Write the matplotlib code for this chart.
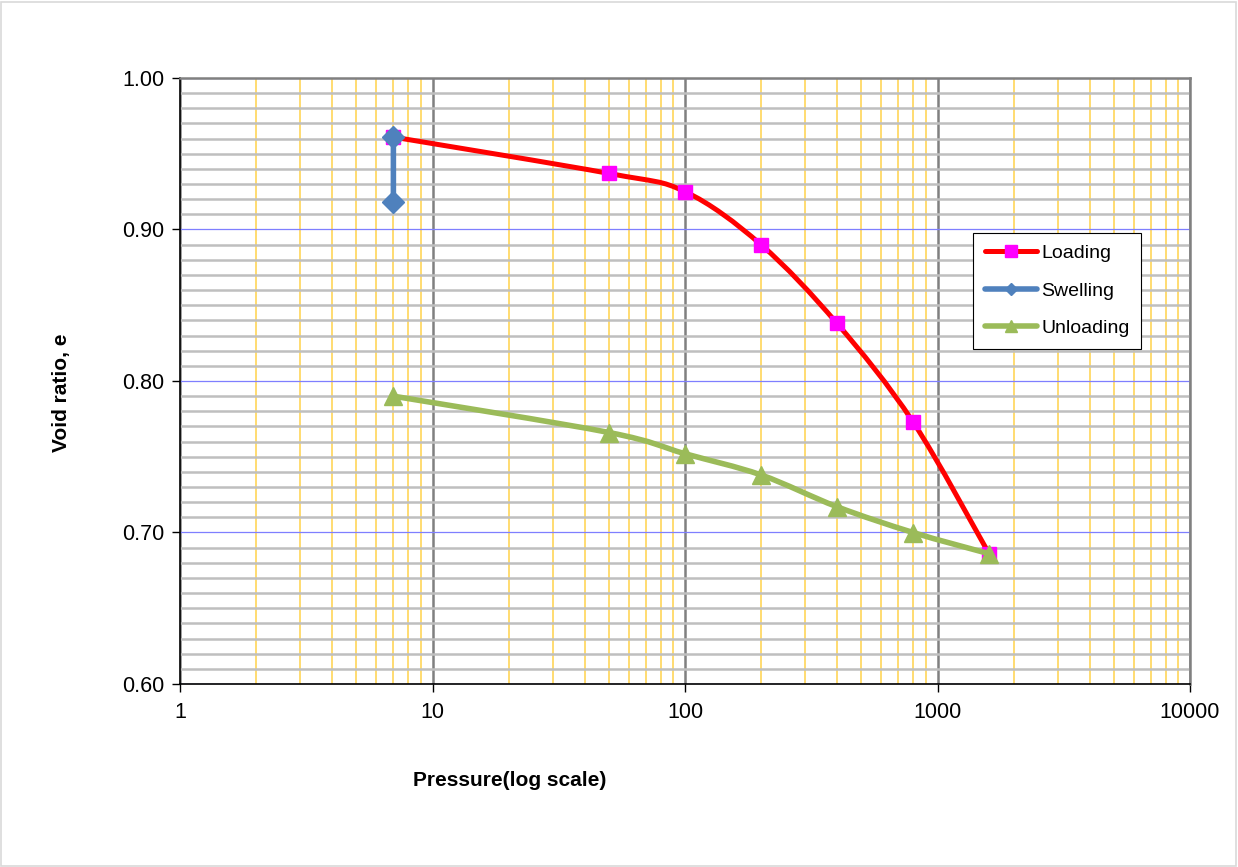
import matplotlib
matplotlib.use("Agg")
import matplotlib.pyplot as plt
import matplotlib.ticker as ticker
from matplotlib.path import Path
from matplotlib.patches import PathPatch, Rectangle
from matplotlib.lines import Line2D
import numpy as np

plt.rcParams['font.family'] = ['Liberation Sans', 'DejaVu Sans']

# data
loading_p = [7, 50, 100, 200, 400, 800, 1600]
loading_e = [0.961, 0.937, 0.925, 0.890, 0.838, 0.773, 0.686]

swelling_p = [7, 7]
swelling_e = [0.961, 0.918]

unloading_p = [7, 50, 100, 200, 400, 800, 1600]
unloading_e = [0.790, 0.766, 0.752, 0.738, 0.717, 0.700, 0.686]


def smooth_path(xs, ys):
    # Excel-like smoothed line: Catmull-Rom to cubic Bezier in (log x, y) space
    lx = np.log10(np.asarray(xs, dtype=float))
    ly = np.asarray(ys, dtype=float)
    # scale y so the spline works in roughly display proportions
    sy = 4.0 / 0.4 * (606 / 1010)
    pts = np.column_stack([lx, ly * sy])
    n = len(pts)
    verts = [pts[0]]
    codes = [Path.MOVETO]
    for i in range(n - 1):
        p0 = pts[max(i - 1, 0)]
        p1 = pts[i]
        p2 = pts[i + 1]
        p3 = pts[min(i + 2, n - 1)]
        c1 = p1 + (p2 - p0) / 6.0
        c2 = p2 - (p3 - p1) / 6.0
        verts += [c1, c2, p2]
        codes += [Path.CURVE4] * 3
    verts = np.array(verts)
    verts = np.column_stack([10 ** verts[:, 0], verts[:, 1] / sy])
    return Path(verts, codes)


fig = plt.figure(figsize=(12.38, 8.67), dpi=100)
ax = fig.add_axes([180 / 1238, 1 - 684 / 867, 1010 / 1238, 606 / 867])

ax.set_xscale('log')
ax.set_xlim(1, 10000)
ax.set_ylim(0.60, 1.00)

ax.set_axisbelow(True)
ax.yaxis.set_major_locator(ticker.MultipleLocator(0.1))
ax.yaxis.set_minor_locator(ticker.MultipleLocator(0.01))
ax.xaxis.set_major_locator(ticker.LogLocator(base=10, numticks=10))
ax.xaxis.set_minor_locator(ticker.LogLocator(base=10, subs=np.arange(2, 10), numticks=20))
ax.xaxis.set_major_formatter(ticker.FuncFormatter(lambda v, p: f'{v:g}'))
ax.xaxis.set_minor_formatter(ticker.NullFormatter())
ax.yaxis.set_major_formatter(ticker.FormatStrFormatter('%.2f'))

ax.grid(True, axis='y', which='minor', color='#bfbfbf', linewidth=1.8)
ax.grid(True, axis='y', which='major', color='#7f7fff', linewidth=0.9)
ax.grid(True, axis='x', which='minor', color='#ffd966', linewidth=1.3)
ax.grid(True, axis='x', which='major', color='#808080', linewidth=1.8)

ax.tick_params(which='minor', length=0)
ax.tick_params(which='major', direction='out', length=6, width=1, labelsize=15.5, color='black')
ax.tick_params(axis='x', pad=7)
ax.tick_params(axis='y', pad=5)

for s in ['left', 'bottom']:
    ax.spines[s].set_color('black')
    ax.spines[s].set_linewidth(1.2)
for s in ['top', 'right']:
    ax.spines[s].set_color('#808080')
    ax.spines[s].set_linewidth(1.8)

# Loading
ax.add_patch(PathPatch(smooth_path(loading_p, loading_e), facecolor='none',
                       edgecolor='#ff0000', linewidth=3.6, zorder=3, capstyle='round'))
ax.plot(loading_p, loading_e, linestyle='none', marker='s', markersize=10.5,
        markerfacecolor='#ff00ff', markeredgecolor='#ff00ff', zorder=4)

# Swelling
ax.add_patch(PathPatch(smooth_path(swelling_p, swelling_e), facecolor='none',
                       edgecolor='#4f81bd', linewidth=4.0, zorder=5, capstyle='round'))
ax.plot(swelling_p, swelling_e, linestyle='none', marker='D', markersize=11.5,
        markerfacecolor='#4f81bd', markeredgecolor='#4f81bd', zorder=6)

# Unloading
ax.add_patch(PathPatch(smooth_path(unloading_p, unloading_e), facecolor='none',
                       edgecolor='#9bbb59', linewidth=4.0, zorder=7, capstyle='round'))
ax.plot(unloading_p, unloading_e, linestyle='none', marker='^', markersize=13.5,
        markerfacecolor='#9bbb59', markeredgecolor='#9bbb59', zorder=8)

handles = [
    Line2D([], [], color='#ff0000', linewidth=3.6, marker='s', markersize=9,
           markerfacecolor='#ff00ff', markeredgecolor='#ff00ff', solid_capstyle='round'),
    Line2D([], [], color='#4f81bd', linewidth=4.0, marker='D', markersize=6,
           markerfacecolor='#4f81bd', markeredgecolor='#4f81bd', solid_capstyle='round'),
    Line2D([], [], color='#9bbb59', linewidth=4.0, marker='^', markersize=8,
           markerfacecolor='#9bbb59', markeredgecolor='#9bbb59', solid_capstyle='round'),
]
leg = ax.legend(handles, ['Loading', 'Swelling', 'Unloading'],
                loc='upper left', bbox_to_anchor=(973 / 1238, 1 - 233 / 867),
                bbox_transform=fig.transFigure, fontsize=14, frameon=True,
                fancybox=False, shadow=False, framealpha=1, edgecolor='black',
                handlelength=2.7, handletextpad=0.2, labelspacing=1.02,
                borderpad=0.6, borderaxespad=0)
leg.get_frame().set_linewidth(0.8)

fig.text(510 / 1238, 1 - 780 / 867, 'Pressure(log scale)', fontsize=15,
         fontweight='bold', ha='center', va='center')
fig.text(62 / 1238, 1 - 393 / 867, 'Void ratio, e', fontsize=15,
         fontweight='bold', ha='center', va='center', rotation=90)

fig.patches.append(Rectangle((1 / 1238, 1 / 867), 1 - 3 / 1238, 1 - 3 / 867,
                             transform=fig.transFigure, fill=False,
                             edgecolor='#d9d9d9', linewidth=1.2))

fig.savefig('out.png', dpi=100)
